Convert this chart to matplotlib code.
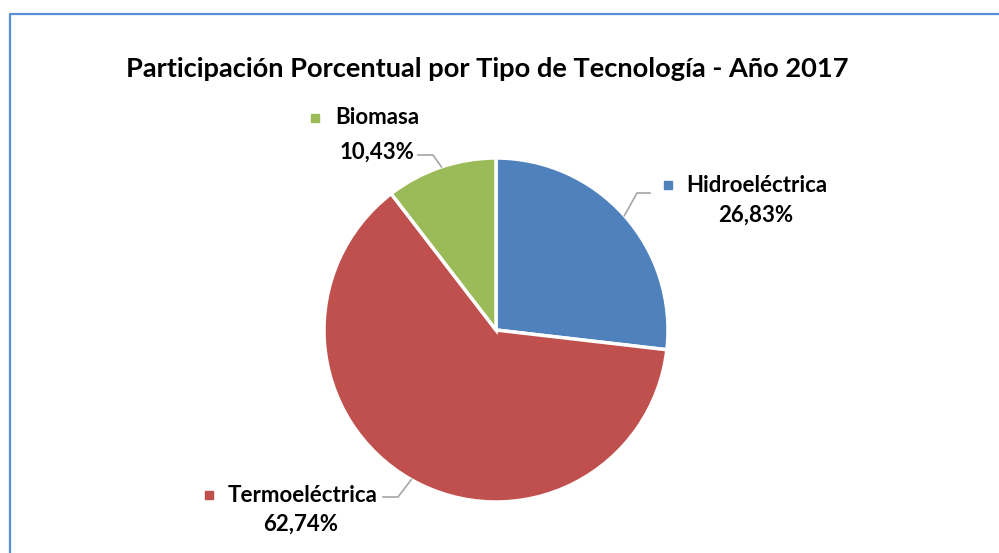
import numpy as np
import matplotlib.pyplot as plt
from matplotlib.lines import Line2D

plt.rcParams['font.family'] = ['Lato', 'DejaVu Sans']

# Data
tecnologias = ["Hidroeléctrica", "Termoeléctrica", "Biomasa"]
porcentajes = [26.83, 62.74, 10.43]
etiquetas = ["26,83%", "62,74%", "10,43%"]
colores = ["#4F81BD", "#C0504D", "#9BBB59"]

fig = plt.figure(figsize=(9.99, 5.53), dpi=100)
W, H = 999, 553

# chart border (light blue frame, cut off at right/bottom)
fig.add_artist(Line2D([10 / W, 10 / W, 1], [0, 1 - 14 / H, 1 - 14 / H],
                      transform=fig.transFigure, color="#5B8FD6", lw=1.6))

fig.text(487 / W, 1 - 69 / H, "Participación Porcentual por Tipo de Tecnología - Año 2017",
         ha="center", va="center", fontsize=19.6, fontweight="bold")

cx, cy, r = 496, 330, 172
ax = fig.add_axes([(cx - r) / W, (H - cy - r) / H, 2 * r / W, 2 * r / H])
wedges, _ = ax.pie(porcentajes, colors=colores, startangle=90, counterclock=False,
                   radius=1, wedgeprops=dict(edgecolor="white", linewidth=2.5))
ax.set_xlim(-1, 1)
ax.set_ylim(-1, 1)
ax.set_aspect("equal")
ax.axis("off")


def px(x, y):
    return (x - cx) / r, (cy - y) / r


# label layout: marker, name and value positions, leader elbow and end (pixels)
layout = {
    "Hidroeléctrica": dict(mk=(668, 185), name=(686, 185), val=(756, 215),
                           ang=None, elbow=(637, 193), end=(650, 193)),
    "Termoeléctrica": dict(mk=(209, 495), name=(228, 495), val=(301, 524),
                           ang=None, elbow=(398, 497), end=(383, 497)),
    "Biomasa": dict(mk=(315, 118), name=(335, 118), val=(377, 152),
                    ang=108.5, elbow=(433, 155), end=(418, 155)),
}

for w, nombre, etq, col in zip(wedges, tecnologias, etiquetas, colores):
    L = layout[nombre]
    ang = L["ang"] if L["ang"] is not None else (w.theta1 + w.theta2) / 2
    ex, ey = np.cos(np.radians(ang)), np.sin(np.radians(ang))
    bx, by = px(*L["elbow"])
    tx, ty = px(*L["end"])
    ax.plot([ex, bx, tx], [ey, by, ty], color="#A6A6A6", lw=1.2, clip_on=False)
    mx, my = px(*L["mk"])
    ax.plot(mx, my, marker="s", color=col, markersize=6, clip_on=False)
    nx, ny = px(*L["name"])
    ax.text(nx, ny, nombre, ha="left", va="center", fontsize=16, fontweight="bold")
    vx, vy = px(*L["val"])
    ax.text(vx, vy, etq, ha="center", va="center", fontsize=16, fontweight="bold")

fig.savefig("out.png", dpi=100)
